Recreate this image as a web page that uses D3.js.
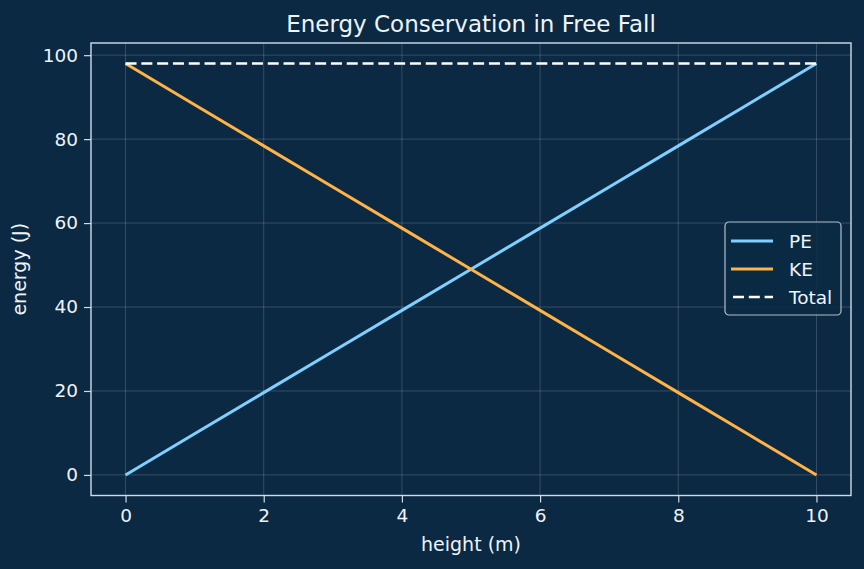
<!DOCTYPE html>
<html><head><meta charset="utf-8">
<script src="https://cdn.jsdelivr.net/npm/d3@7"></script>
<style>html,body{margin:0;padding:0;background:#0b2942;}svg{display:block;font-family:"DejaVu Sans",sans-serif;}</style>
</head><body>
<svg id="chart" width="864" height="569"></svg>
<script>
const heights = [0, 1, 2, 3, 4, 5, 6, 7, 8, 9, 10];
const pe = [0, 9.8, 19.6, 29.4, 39.2, 49.0, 58.8, 68.6, 78.4, 88.2, 98.0];
const ke = [98.0, 88.2, 78.4, 68.6, 58.8, 49.0, 39.2, 29.4, 19.6, 9.8, 0];
const total = [98, 98, 98, 98, 98, 98, 98, 98, 98, 98, 98];
const xTicks = [0, 2, 4, 6, 8, 10];
const yTicks = [0, 20, 40, 60, 80, 100];
const seriesNames = ["PE", "KE", "Total"];
const seriesColors = ["#80d0ff", "#ffb347", "#ffffff"];

const svg = d3.select("#chart");
const W = 864, H = 569;
const m = {left: 91, right: 851, top: 43, bottom: 495.5};
svg.append("rect").attr("width", W).attr("height", H).attr("fill", "#0b2942");

const x = d3.scaleLinear().domain([-0.5, 10.5]).range([m.left, m.right]);
const y = d3.scaleLinear().domain([-4.9, 102.9]).range([m.bottom, m.top]);

const textColor = "#eef4fa";
const spineColor = "#cfdcea";

// grid
const g = svg.append("g");
g.selectAll(".gx").data(xTicks).enter().append("line")
  .attr("x1", d => x(d)).attr("x2", d => x(d)).attr("y1", m.top).attr("y2", m.bottom)
  .attr("stroke", "#ffffff").attr("stroke-opacity", 0.22).attr("stroke-width", 0.8);
g.selectAll(".gy").data(yTicks).enter().append("line")
  .attr("x1", m.left).attr("x2", m.right).attr("y1", d => y(d)).attr("y2", d => y(d))
  .attr("stroke", "#ffffff").attr("stroke-opacity", 0.22).attr("stroke-width", 0.8);

// axes
const xAxis = svg.append("g").attr("transform", `translate(0,${m.bottom})`)
  .call(d3.axisBottom(x).tickValues(xTicks).tickSize(7).tickPadding(6).tickFormat(d3.format("d")));
const yAxis = svg.append("g").attr("transform", `translate(${m.left},0)`)
  .call(d3.axisLeft(y).tickValues(yTicks).tickSize(7).tickPadding(6).tickFormat(d3.format("d")));
[xAxis, yAxis].forEach(a => {
  a.select(".domain").remove();
  a.selectAll(".tick line").attr("stroke", spineColor).attr("stroke-width", 1.2);
  a.selectAll(".tick text").attr("fill", textColor).style("font-size", "18.5px")
    .style("font-family", "DejaVu Sans");
});

// lines
const series = [pe, ke, total];
series.forEach((vals, i) => {
  const line = d3.line().x((d, j) => x(heights[j])).y(d => y(d));
  const p = svg.append("path").datum(vals).attr("d", line).attr("fill", "none")
    .attr("stroke", seriesColors[i]).attr("stroke-width", i === 2 ? 2.6 : 3);
  if (i === 2) p.attr("stroke-dasharray", "11,4.8");
});

// spines
svg.append("rect").attr("x", m.left).attr("y", m.top)
  .attr("width", m.right - m.left).attr("height", m.bottom - m.top)
  .attr("fill", "none").attr("stroke", spineColor).attr("stroke-width", 1.4);

// title & labels
svg.append("text").attr("x", (m.left + m.right) / 2).attr("y", 32).attr("text-anchor", "middle")
  .attr("fill", textColor).style("font-size", "23px").text("Energy Conservation in Free Fall");
svg.append("text").attr("x", (m.left + m.right) / 2).attr("y", 551).attr("text-anchor", "middle")
  .attr("fill", textColor).style("font-size", "19px").text("height (m)");
svg.append("text").attr("transform", `translate(26,${(m.top + m.bottom) / 2}) rotate(-90)`)
  .attr("text-anchor", "middle").attr("fill", textColor).style("font-size", "19px").text("energy (J)");

// legend
const lg = svg.append("g").attr("transform", "translate(725,222)");
lg.append("rect").attr("width", 116).attr("height", 93).attr("rx", 4)
  .attr("fill", "#0b2942").attr("fill-opacity", 0.85)
  .attr("stroke", "#cfd8e0").attr("stroke-opacity", 0.85).attr("stroke-width", 1.2);
seriesNames.forEach((n, i) => {
  const yy = 19 + i * 28;
  const l = lg.append("line").attr("x1", 6).attr("x2", 48).attr("y1", yy).attr("y2", yy)
    .attr("stroke", seriesColors[i]).attr("stroke-width", i === 2 ? 2.6 : 3);
  if (i === 2) l.attr("stroke-dasharray", "11,4.8").attr("x1", 8);
  lg.append("text").attr("x", 64).attr("y", yy + 6.5).attr("fill", textColor)
    .style("font-size", "18.5px").text(n);
});
</script>
</body></html>
